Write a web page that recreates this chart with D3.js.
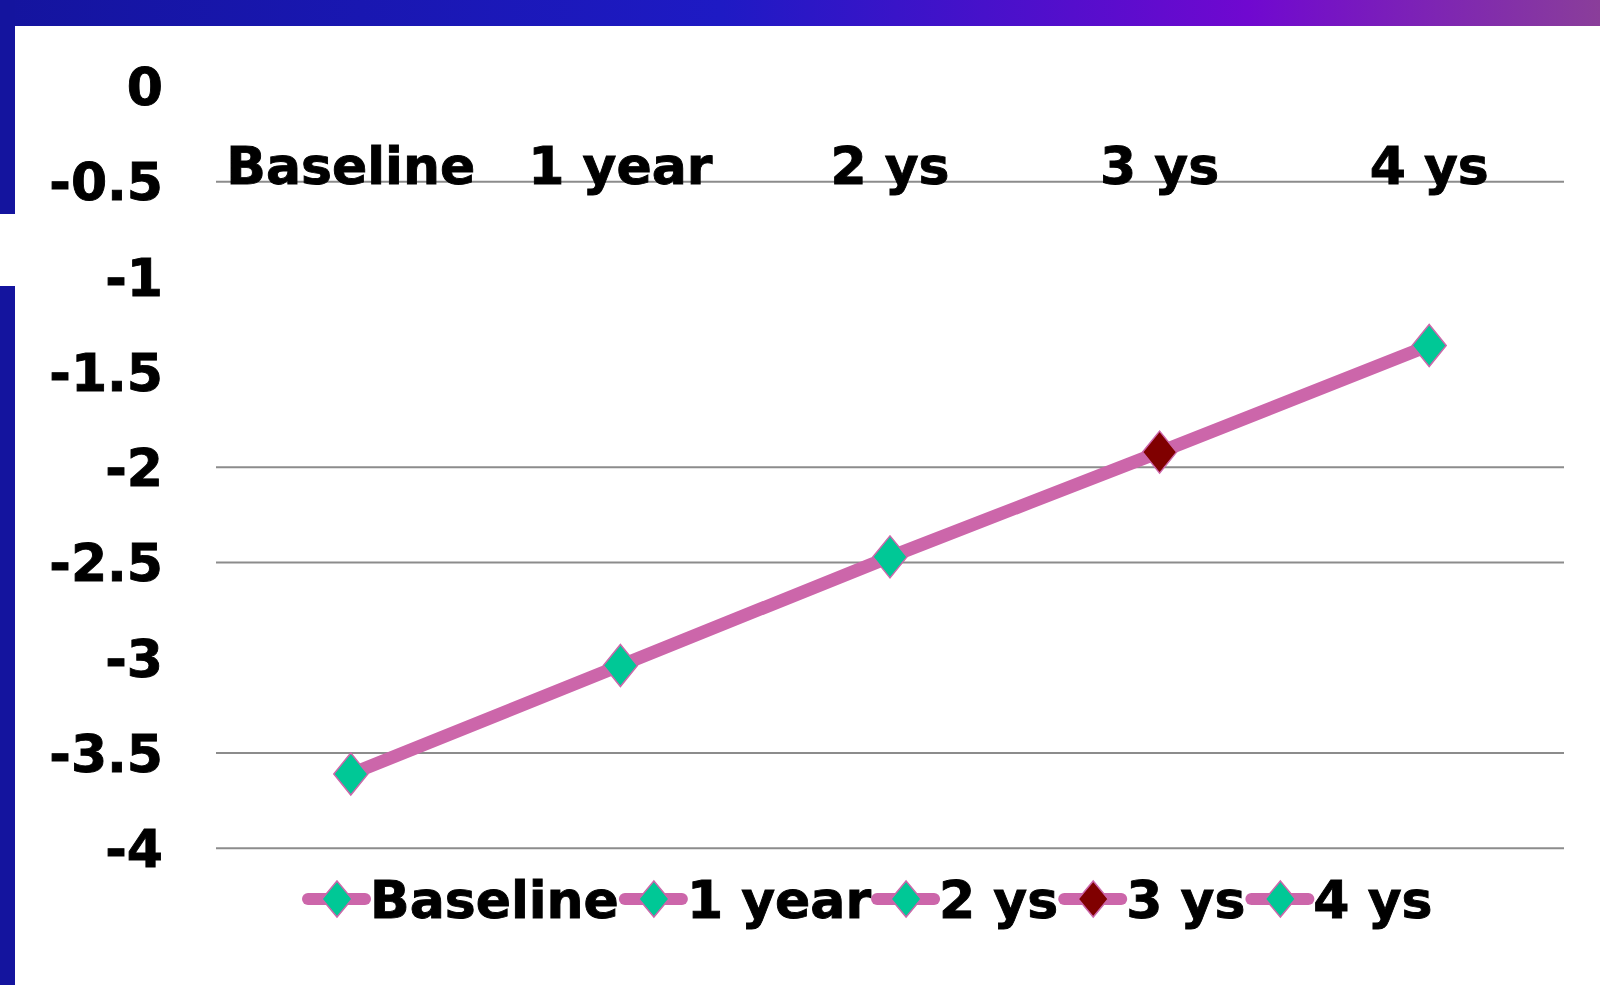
<!DOCTYPE html>
<html>
<head>
<meta charset="utf-8">
<script src="https://cdn.jsdelivr.net/npm/d3@7"></script>
<style>
  html, body { margin: 0; padding: 0; background: #fff; }
  svg { display: block; }
  text { font-family: "DejaVu Sans", sans-serif; font-weight: bold; fill: #000; stroke: #000; stroke-width: 0.9px; }
</style>
</head>
<body>
<script>
// chart data
const categories = ['Baseline', '1 year', '2 ys', '3 ys', '4 ys'];
const values = [-3.61, -3.04, -2.47, -1.92, -1.36];
const markerColors = ['#00c896', '#00c896', '#00c896', '#800000', '#00c896'];
const yTicks = [0, -0.5, -1, -1.5, -2, -2.5, -3, -3.5, -4];
const yTickLabels = ['0', '-0.5', '-1', '-1.5', '-2', '-2.5', '-3', '-3.5', '-4'];
const gridValues = [-0.5, -2, -2.5, -3.5, -4];

document.addEventListener('DOMContentLoaded', () => {
  const width = 1600;
  const height = 985;
  const lineColor = '#cc66aa';
  const fontSize = '52px';

  const svg = d3.select('body').append('svg')
    .attr('width', width)
    .attr('height', height);

  // slide frame: gradient bar on top, dark bar on the left
  const grad = svg.append('defs').append('linearGradient')
    .attr('id', 'topbar')
    .attr('x1', '0%').attr('x2', '100%');
  [['0%', '#14149e'], ['45%', '#1e1ac4'], ['78%', '#7008d0'], ['100%', '#8a3e9a']]
    .forEach(s => grad.append('stop').attr('offset', s[0]).attr('stop-color', s[1]));

  svg.append('rect').attr('x', 0).attr('y', 0).attr('width', width).attr('height', 26)
    .style('fill', 'url(#topbar)');
  svg.append('rect').attr('x', 0).attr('y', 0).attr('width', 15).attr('height', height)
    .style('fill', '#14149e');
  svg.append('rect').attr('x', 0).attr('y', 214).attr('width', 15).attr('height', 72)
    .style('fill', '#fff');
  svg.append('rect').attr('x', 15).attr('y', 26).attr('width', width - 15).attr('height', height - 26)
    .attr('rx', 4)
    .style('fill', '#fff');

  // scales
  const x = d3.scaleBand().domain(categories).range([216, 1564]);
  const y = d3.scaleLinear().domain([-4, 0]).range([848.3, 86.4]);

  // gridlines
  svg.append('g').attr('class', 'grid')
    .selectAll('line').data(gridValues)
    .enter()
      .append('line')
      .attr('x1', 216).attr('x2', 1564)
      .attr('y1', d => y(d)).attr('y2', d => y(d))
      .style('stroke', '#8c8c8c')
      .style('stroke-width', 2);

  // y axis labels
  svg.append('g').attr('class', 'y-labels')
    .selectAll('text').data(yTicks)
    .enter()
      .append('text')
      .attr('x', 163)
      .attr('y', d => y(d))
      .attr('dy', '0.36em')
      .attr('text-anchor', 'end')
      .style('font-size', fontSize)
      .text((d, i) => yTickLabels[i]);

  // category labels sit along the top
  svg.append('g').attr('class', 'x-labels')
    .selectAll('text').data(categories)
    .enter()
      .append('text')
      .attr('x', d => x(d) + x.bandwidth() / 2)
      .attr('y', 184)
      .attr('text-anchor', 'middle')
      .style('font-size', fontSize)
      .text(d => d);

  // the line
  const line = d3.line()
    .x((d, i) => x(categories[i]) + x.bandwidth() / 2)
    .y(d => y(d));

  svg.append('path')
    .datum(values)
    .attr('d', line)
    .style('fill', 'none')
    .style('stroke', lineColor)
    .style('stroke-width', 13);

  const diamond = (cx, cy, hw, hh) =>
    `M${cx},${cy - hh}L${cx + hw},${cy}L${cx},${cy + hh}L${cx - hw},${cy}Z`;

  svg.append('g').attr('class', 'markers')
    .selectAll('path').data(values)
    .enter()
      .append('path')
      .attr('d', (d, i) => diamond(x(categories[i]) + x.bandwidth() / 2, y(d), 17, 21))
      .style('fill', (d, i) => markerColors[i])
      .style('stroke', lineColor)
      .style('stroke-width', 1.5);

  // legend
  const legend = svg.append('g').attr('class', 'legend');
  let lx = 303;
  const ly = 899;
  categories.forEach((c, i) => {
    legend.append('line')
      .attr('x1', lx + 5).attr('x2', lx + 62)
      .attr('y1', ly).attr('y2', ly)
      .style('stroke', lineColor)
      .style('stroke-width', 12)
      .style('stroke-linecap', 'round');
    legend.append('path')
      .attr('d', diamond(lx + 34, ly, 15, 18))
      .style('fill', markerColors[i])
      .style('stroke', lineColor)
      .style('stroke-width', 1.5);
    const t = legend.append('text')
      .attr('x', lx + 67)
      .attr('y', ly + 19)
      .style('font-size', fontSize)
      .text(c);
    lx += 67 + t.node().getComputedTextLength() + 1;
  });
});
</script>
</body>
</html>
